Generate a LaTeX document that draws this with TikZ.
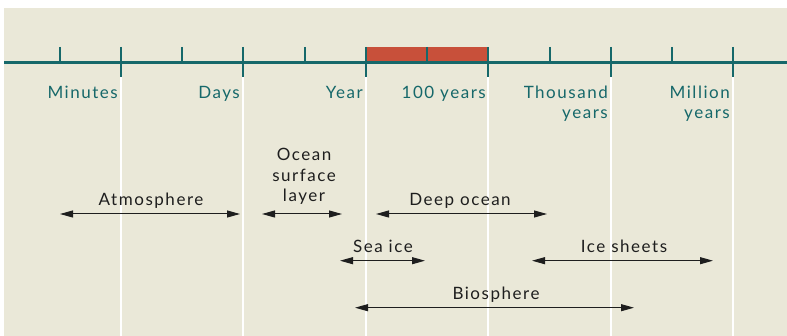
\documentclass[tikz,border=0pt]{standalone}
\usepackage{fontspec}
\setmainfont{Lato}[LetterSpace=9]
\usetikzlibrary{arrows.meta}
\definecolor{bg}{HTML}{EAE8D8}
\definecolor{teal}{HTML}{16686A}
\definecolor{redbar}{HTML}{C8503A}
\definecolor{ink}{HTML}{1E1E1E}
\tikzset{
  axis/.style={draw=teal,line width=2.7pt},
  tickmark/.style={draw=teal,line width=2.7pt},
  guide/.style={draw=white,line width=2.7pt},
  scalelabel/.style={text=teal,font=\fontsize{17}{20}\selectfont,inner sep=0pt,anchor=base east,align=right},
  spanlabel/.style={text=ink,font=\fontsize{17}{20.5}\selectfont,inner sep=0pt,anchor=base,align=center},
  span/.style={draw=ink,line width=1pt,{Triangle[length=13pt,width=7pt]}-{Triangle[length=13pt,width=7pt]}}
}
\begin{document}
\begin{tikzpicture}[x=1pt,y=-1pt]
\useasboundingbox (0,0) rectangle (787,336);
\fill[white] (0,0) rectangle (787,336);
\fill[bg] (4,8) rectangle (787,336);
% white guide lines
\foreach \x in {121,243,366,488,611,733} \draw[guide] (\x,77) -- (\x,336);
% red bar
\fill[redbar] (366,47.3) rectangle (488,61.5);
% axis
\coordinate (axl) at (4,62.5);
\coordinate (axr) at (787,62.5);
\draw[axis] (axl) -- (axr);
\foreach \x in {60,182,305,427,550,672} \draw[tickmark] (\x,47) -- (\x,62.5);
\foreach \x in {121,243,366,488,611,733} \draw[tickmark] (\x,47) -- (\x,77);
% scale labels
\node[scalelabel] (minutes) at (118,99) {Minutes};
\node[scalelabel] (days) at (240,99) {Days};
\node[scalelabel] (year) at (363,99) {Year};
\node[scalelabel] (hundred) at (486,99) {100 years};
\node[scalelabel] (thousand) at (608,118.5) {Thousand\\years};
\node[scalelabel] (million) at (730,118.5) {Million\\years};
% spans
\coordinate (atmL) at (60,214); \coordinate (atmR) at (240,214);
\coordinate (oslL) at (262,214); \coordinate (oslR) at (342,214);
\coordinate (deoL) at (376,214); \coordinate (deoR) at (547,214);
\coordinate (seaL) at (340,260.7); \coordinate (seaR) at (425,260.7);
\coordinate (icsL) at (532,260.7); \coordinate (icsR) at (713,260.7);
\coordinate (bioL) at (355,307.7); \coordinate (bioR) at (634,307.7);
\draw[span] (atmL) -- (atmR);
\draw[span] (oslL) -- (oslR);
\draw[span] (deoL) -- (deoR);
\draw[span] (seaL) -- (seaR);
\draw[span] (icsL) -- (icsR);
\draw[span] (bioL) -- (bioR);
\node[spanlabel] (atm) at (151,206) {Atmosphere};
\node[spanlabel] (osl) at (304,201.7) {Ocean\\surface\\layer};
\node[spanlabel] (deo) at (460,206) {Deep ocean};
\node[spanlabel] (sea) at (383,252.7) {Sea ice};
\node[spanlabel] (ics) at (624,252.7) {Ice sheets};
\node[spanlabel] (bio) at (496,300) {Biosphere};
\end{tikzpicture}
\end{document}
